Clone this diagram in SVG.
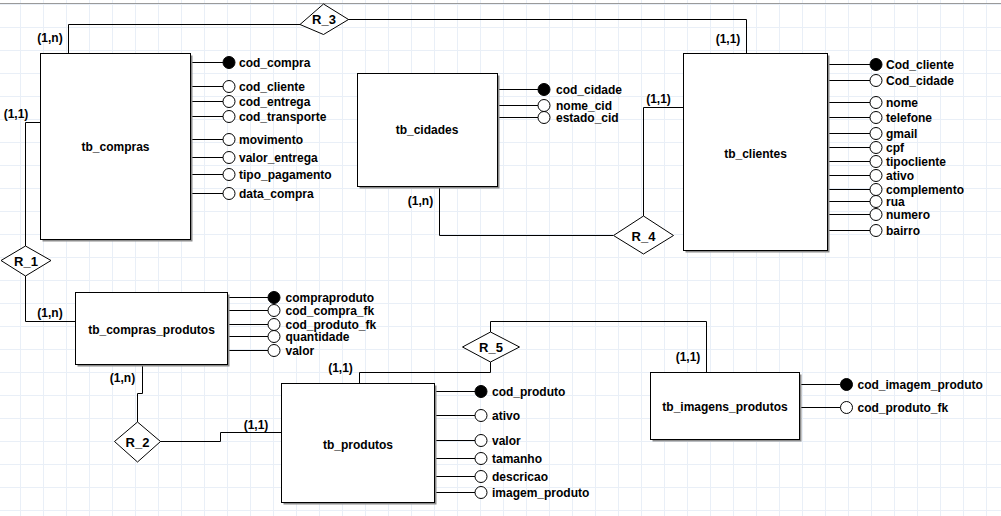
<svg xmlns="http://www.w3.org/2000/svg" width="1001" height="516" viewBox="0 0 1001 516">
<style>
text{font-family:"Liberation Sans",Arial,sans-serif;font-weight:bold;fill:#000}
.at{font-size:12px}
.card{font-size:12px;text-anchor:middle}
.en{font-size:12px;text-anchor:middle}
.rl{font-size:13px;text-anchor:middle}
.box{fill:#fff;stroke:#000;stroke-width:1}
.sh{fill:#8c8c8c}
.ln{fill:none;stroke:#000;stroke-width:1}
.k{fill:#000;stroke:#000;stroke-width:1}
.a{fill:#fff;stroke:#000;stroke-width:1}
.dm{fill:#fff;stroke:#000;stroke-width:1}
</style>
<defs>
<pattern id="grid" x="20" y="4" width="23" height="23" patternUnits="userSpaceOnUse">
<path d="M0.5 0V23M0 0.5H23" fill="none" stroke="#e9eff7" stroke-width="1"/>
</pattern>
</defs>
<rect width="1001" height="516" fill="#fff"/>
<rect width="1001" height="516" fill="url(#grid)"/>
<line x1="0" y1="3.5" x2="1001" y2="3.5" stroke="#9a9a9a" stroke-width="1"/>

<g id="connectors" class="ln">
<polyline class="ln" points="300,24.5 68.5,24.5 68.5,53"/>
<polyline class="ln" points="348,19.5 746.5,19.5 746.5,53"/>
<polyline class="ln" points="40,122.5 25.5,122.5 25.5,246"/>
<polyline class="ln" points="25.5,276 25.5,321.5 75,321.5"/>
<polyline class="ln" points="142.5,365 142.5,393.5 137.5,393.5 137.5,422"/>
<polyline class="ln" points="160,441.5 220.5,441.5 220.5,432.5 281,432.5"/>
<polyline class="ln" points="643.5,216 643.5,107.5 683,107.5"/>
<polyline class="ln" points="613,235.5 439.5,235.5 439.5,187"/>
<polyline class="ln" points="490.5,362 490.5,372.5 359.5,372.5 359.5,383"/>
<polyline class="ln" points="490.5,332 490.5,321.5 706.5,321.5 706.5,372"/>
</g>

<g id="tb_compras">
<g class="ln">
<path d="M190 62.5H223M190 86.5H223M190 101.5H223M190 116.5H223M190 139.5H223M190 157.5H223M190 174.5H223M190 193.5H223"/>
</g>
<rect class="sh" x="42.5" y="55.5" width="150" height="186"/>
<rect class="box" x="40.5" y="53.5" width="150" height="186"/>
<text class="en" x="115.5" y="150.5">tb_compras</text>
<circle class="k" cx="229" cy="62.5" r="6"/>
<circle class="a" cx="229" cy="86.5" r="6"/>
<circle class="a" cx="229" cy="101.5" r="6"/>
<circle class="a" cx="229" cy="116.5" r="6"/>
<circle class="a" cx="229" cy="139.5" r="6"/>
<circle class="a" cx="229" cy="157.5" r="6"/>
<circle class="a" cx="229" cy="174.5" r="6"/>
<circle class="a" cx="229" cy="193.5" r="6"/>
<text class="at" x="239" y="66.8">cod_compra</text>
<text class="at" x="239" y="90.8">cod_cliente</text>
<text class="at" x="239" y="105.8">cod_entrega</text>
<text class="at" x="239" y="120.8">cod_transporte</text>
<text class="at" x="239" y="143.8">movimento</text>
<text class="at" x="239" y="161.8">valor_entrega</text>
<text class="at" x="239" y="178.8">tipo_pagamento</text>
<text class="at" x="239" y="197.8">data_compra</text>
</g>

<g id="tb_cidades">
<g class="ln">
<path d="M497 89.5H538M497 105.5H538M497 117.5H538"/>
</g>
<rect class="sh" x="359.5" y="75.5" width="140" height="113"/>
<rect class="box" x="357.5" y="73.5" width="140" height="113"/>
<text class="en" x="427" y="133.5">tb_cidades</text>
<circle class="k" cx="544" cy="89.5" r="6"/>
<circle class="a" cx="544" cy="105.5" r="6"/>
<circle class="a" cx="544" cy="117.5" r="6"/>
<text class="at" x="556" y="93.8">cod_cidade</text>
<text class="at" x="556" y="109.8">nome_cid</text>
<text class="at" x="556" y="121.8">estado_cid</text>
</g>

<g id="tb_clientes">
<g class="ln">
<path d="M827 64.5H870M827 80.5H870M827 102.5H870M827 117.5H870M827 133.5H870M827 147.5H870M827 161.5H870M827 175.5H870M827 189.5H870M827 201.5H870M827 214.5H870M827 230.5H870"/>
</g>
<rect class="sh" x="685.5" y="55.5" width="144" height="197"/>
<rect class="box" x="683.5" y="53.5" width="144" height="197"/>
<text class="en" x="755.5" y="157.5">tb_clientes</text>
<circle class="k" cx="876" cy="64.5" r="6"/>
<circle class="a" cx="876" cy="80.5" r="6"/>
<circle class="a" cx="876" cy="102.5" r="6"/>
<circle class="a" cx="876" cy="117.5" r="6"/>
<circle class="a" cx="876" cy="133.5" r="6"/>
<circle class="a" cx="876" cy="147.5" r="6"/>
<circle class="a" cx="876" cy="161.5" r="6"/>
<circle class="a" cx="876" cy="175.5" r="6"/>
<circle class="a" cx="876" cy="189.5" r="6"/>
<circle class="a" cx="876" cy="201.5" r="6"/>
<circle class="a" cx="876" cy="214.5" r="6"/>
<circle class="a" cx="876" cy="230.5" r="6"/>
<text class="at" x="886" y="68.8">Cod_cliente</text>
<text class="at" x="886" y="84.8">Cod_cidade</text>
<text class="at" x="886" y="106.8">nome</text>
<text class="at" x="886" y="121.8">telefone</text>
<text class="at" x="886" y="137.8">gmail</text>
<text class="at" x="886" y="151.8">cpf</text>
<text class="at" x="886" y="165.8">tipocliente</text>
<text class="at" x="886" y="179.8">ativo</text>
<text class="at" x="886" y="193.8">complemento</text>
<text class="at" x="886" y="205.8">rua</text>
<text class="at" x="886" y="218.8">numero</text>
<text class="at" x="886" y="234.8">bairro</text>
</g>

<g id="tb_compras_produtos">
<g class="ln">
<path d="M227 297.5H268M227 310.5H268M227 324.5H268M227 336.5H268M227 350.5H268"/>
</g>
<rect class="sh" x="77.5" y="294.5" width="152" height="72"/>
<rect class="box" x="75.5" y="292.5" width="152" height="72"/>
<text class="en" x="151.5" y="333.5">tb_compras_produtos</text>
<circle class="k" cx="274" cy="297.5" r="6"/>
<circle class="a" cx="274" cy="310.5" r="6"/>
<circle class="a" cx="274" cy="324.5" r="6"/>
<circle class="a" cx="274" cy="336.5" r="6"/>
<circle class="a" cx="274" cy="350.5" r="6"/>
<text class="at" x="285.5" y="301.8">compraproduto</text>
<text class="at" x="285.5" y="314.8">cod_compra_fk</text>
<text class="at" x="285.5" y="328.8">cod_produto_fk</text>
<text class="at" x="285.5" y="340.8">quantidade</text>
<text class="at" x="285.5" y="354.8">valor</text>
</g>

<g id="tb_produtos">
<g class="ln">
<path d="M434 391.5H475M434 415.5H475M434 440.5H475M434 458.5H475M434 476.5H475M434 492.5H475"/>
</g>
<rect class="sh" x="283.5" y="385.5" width="153" height="119"/>
<rect class="box" x="281.5" y="383.5" width="153" height="119"/>
<text class="en" x="358" y="448.5">tb_produtos</text>
<circle class="k" cx="481" cy="391.5" r="6"/>
<circle class="a" cx="481" cy="415.5" r="6"/>
<circle class="a" cx="481" cy="440.5" r="6"/>
<circle class="a" cx="481" cy="458.5" r="6"/>
<circle class="a" cx="481" cy="476.5" r="6"/>
<circle class="a" cx="481" cy="492.5" r="6"/>
<text class="at" x="492" y="395.8">cod_produto</text>
<text class="at" x="492" y="419.8">ativo</text>
<text class="at" x="492" y="444.8">valor</text>
<text class="at" x="492" y="462.8">tamanho</text>
<text class="at" x="492" y="480.8">descricao</text>
<text class="at" x="492" y="496.8">imagem_produto</text>
</g>

<g id="tb_imagens_produtos">
<g class="ln">
<path d="M799 384.5H840.5M799 407.5H840.5"/>
</g>
<rect class="sh" x="652.5" y="374.5" width="149" height="67"/>
<rect class="box" x="650.5" y="372.5" width="149" height="67"/>
<text class="en" x="725" y="410.5">tb_imagens_produtos</text>
<circle class="k" cx="846.5" cy="384.5" r="6"/>
<circle class="a" cx="846.5" cy="407.5" r="6"/>
<text class="at" x="857.5" y="388.8">cod_imagem_produto</text>
<text class="at" x="857.5" y="411.8">cod_produto_fk</text>
</g>

<g id="R_1">
<polygon class="dm" points="25.5,246 51,260.5 25.5,276 1,260.5"/>
<text class="rl" x="26" y="265.5">R_1</text>
</g>
<g id="R_2">
<polygon class="dm" points="137.5,422 160.5,441.5 137.5,462 114.5,441.5"/>
<text class="rl" x="137.5" y="446.5">R_2</text>
</g>
<g id="R_3">
<polygon class="dm" points="323.5,4 348.5,19.5 323.5,34.5 300,24.5"/>
<text class="rl" x="324" y="24">R_3</text>
</g>
<g id="R_4">
<polygon class="dm" points="643.5,216 673.5,235.5 643.5,254 613.5,235.5"/>
<text class="rl" x="643.5" y="240.5">R_4</text>
</g>
<g id="R_5">
<polygon class="dm" points="490.5,332 519.5,347 490.5,362 462.5,347"/>
<text class="rl" x="491" y="352">R_5</text>
</g>

<g id="cardinalities">
<text class="card" x="50" y="41.5">(1,n)</text>
<text class="card" x="16" y="117.5">(1,1)</text>
<text class="card" x="728" y="42.5">(1,1)</text>
<text class="card" x="658.5" y="102.5">(1,1)</text>
<text class="card" x="420.5" y="204.5">(1,n)</text>
<text class="card" x="50" y="316.5">(1,n)</text>
<text class="card" x="122.5" y="382">(1,n)</text>
<text class="card" x="256" y="428.5">(1,1)</text>
<text class="card" x="340.5" y="372">(1,1)</text>
<text class="card" x="688" y="361">(1,1)</text>
</g>
</svg>
